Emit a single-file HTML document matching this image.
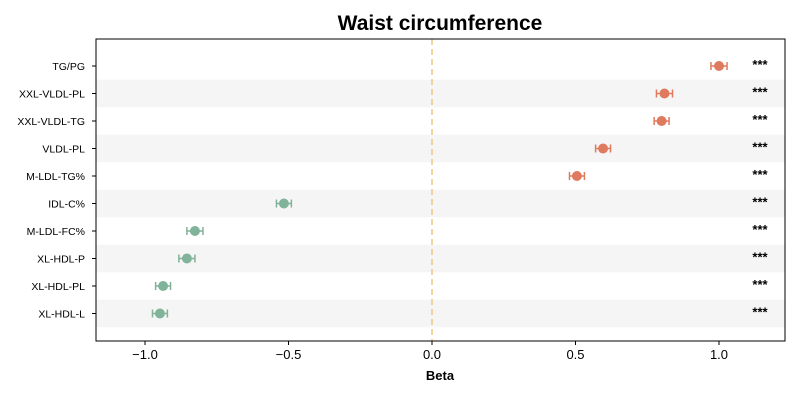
<!DOCTYPE html>
<html><head><meta charset="utf-8"><style>
body{margin:0;background:#fff;}
svg{display:block;font-family:"Liberation Sans",sans-serif;}
</style></head><body>
<svg id="chart" width="800" height="400"></svg>
<script>
const labels=["TG/PG","XXL-VLDL-PL","XXL-VLDL-TG","VLDL-PL","M-LDL-TG%","IDL-C%","M-LDL-FC%","XL-HDL-P","XL-HDL-PL","XL-HDL-L"];
const betas=[1.0,0.81,0.80,0.596,0.505,-0.516,-0.826,-0.854,-0.937,-0.948];
const errs=[0.028,0.028,0.026,0.026,0.026,0.026,0.028,0.028,0.026,0.026];
const sigs=["***","***","***","***","***","***","***","***","***","***"];
const xticks=[-1.0,-0.5,0.0,0.5,1.0];
const xtickLabels=["\u22121.0","\u22120.5","0.0","0.5","1.0"];

const svg=document.getElementById('chart');
const NS="http://www.w3.org/2000/svg";
const L=96,R=785,T=39,B=341;
const X=v=>432+v*287;
const rowH=27.5, Y=i=>66+i*rowH;
function mk(tag,attrs,parent){const e=document.createElementNS(NS,tag);for(const k in attrs)e.setAttribute(k,attrs[k]);(parent||svg).appendChild(e);return e;}

const title=mk('text',{x:440,y:30,'text-anchor':'middle','font-size':21,'font-weight':'bold',fill:'#000'});
title.textContent="Waist circumference";



labels.forEach((l,i)=>{
  if(i%2===1){
    const band=mk('rect',{x:L,y:Y(i)-13.75,width:R-L,height:rowH,fill:'#f5f5f5'});
    
    
  }
});
const zl=mk('line',{x1:X(0),x2:X(0),y1:T,y2:B,stroke:'#f0c77e','stroke-width':1.5,'stroke-dasharray':'6,4'});



labels.forEach((l,i)=>{
  const y=Y(i), col=betas[i]>0?'#e07a5f':'#81b29a';
  const g=mk('g',{});
  
  
  const x1=X(betas[i]-errs[i]),x2=X(betas[i]+errs[i]);
  mk('line',{x1:x1,x2:x2,y1:y,y2:y,stroke:col,'stroke-width':1.5},g);
  mk('line',{x1:x1,x2:x1,y1:y-4,y2:y+4,stroke:col,'stroke-width':1.5},g);
  mk('line',{x1:x2,x2:x2,y1:y-4,y2:y+4,stroke:col,'stroke-width':1.5},g);
  mk('circle',{cx:X(betas[i]),cy:y,r:5,fill:col},g);
  const s=mk('text',{x:760,y:y+3,'text-anchor':'middle','font-size':13,'font-weight':'bold',fill:'#000'});
  s.textContent=sigs[i];
  
  
  mk('line',{x1:L-4,x2:L,y1:y,y2:y,stroke:'#000'});
  const t=mk('text',{x:L-11,y:y+4,'text-anchor':'end','font-size':10.5,fill:'#000'});
  t.textContent=l;
  
  
});

const frame=mk('rect',{x:L,y:T,width:R-L,height:B-T,fill:'none',stroke:'#000','stroke-width':1});



xticks.forEach((v,i)=>{
  mk('line',{x1:X(v),x2:X(v),y1:B,y2:B+4,stroke:'#000'});
  const t=mk('text',{x:X(v),y:B+18,'text-anchor':'middle','font-size':13,fill:'#000'});
  t.textContent=xtickLabels[i];
  
  
});
const xt=mk('text',{x:440,y:380,'text-anchor':'middle','font-size':13,'font-weight':'bold',fill:'#000'});
xt.textContent="Beta";


</script>
</body></html>
